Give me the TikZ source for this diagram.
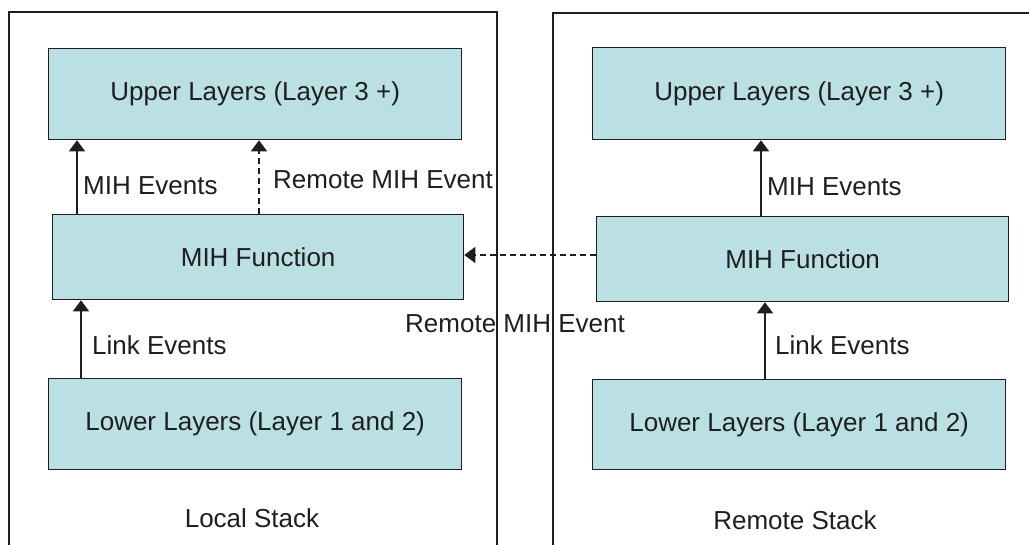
\documentclass[tikz,border=0pt]{standalone}
\usepackage{fontspec}
\setmainfont{Liberation Sans}
\usetikzlibrary{arrows.meta}
\definecolor{boxfill}{HTML}{BBE0E3}
\definecolor{ink}{HTML}{1E1E1E}
\tikzset{
  layerbox/.style={draw=ink, fill=boxfill, line width=1.3pt, inner sep=0pt, anchor=north west, text=ink},
  lbl/.style={anchor=west, inner sep=0pt, text=ink},
  ctr/.style={inner sep=0pt, text=ink},
  panel/.style={draw=ink, line width=1.3pt},
  arr/.style={draw=ink, line width=1.3pt, -{Triangle[width=16pt,length=11pt]}},
  darr/.style={arr, dash pattern=on 6pt off 4pt},
}
\begin{document}
\begin{tikzpicture}[x=1pt, y=-1pt, font=\fontsize{26}{31}\selectfont]
\useasboundingbox (0,0) rectangle (1029,545);
% panels
\draw[panel] (9,545) -- (9,12) -- (497,12) -- (497,545);
\draw[panel] (553,545) -- (553,13) -- (1029,13);
% left stack
\node[layerbox, minimum width=413pt, minimum height=91pt] (lup) at (48,48) {};
\node[ctr] at (lup.center) {Upper Layers (Layer 3 +)};
\node[layerbox, minimum width=411pt, minimum height=85pt] (lmih) at (52,214) {};
\node[ctr] at (lmih.center) {MIH Function};
\node[layerbox, minimum width=413pt, minimum height=91pt] (llow) at (48,378) {};
\node[ctr] at (llow.center) {Lower Layers (Layer 1 and 2)};
% right stack
\node[layerbox, minimum width=413pt, minimum height=92pt] (rup) at (592,47) {};
\node[ctr] at (rup.center) {Upper Layers (Layer 3 +)};
\node[layerbox, minimum width=412pt, minimum height=85pt] (rmih) at (596,216) {};
\node[ctr] at (rmih.center) {MIH Function};
\node[layerbox, minimum width=413pt, minimum height=90pt] (rlow) at (592,379) {};
\node[ctr] at (rlow.center) {Lower Layers (Layer 1 and 2)};
% connector x positions
\coordinate (xa) at (77,0);
\coordinate (xb) at (259,0);
\coordinate (xc) at (81,0);
\coordinate (xd) at (761,0);
\coordinate (xe) at (765,0);
% connectors
\draw[arr] (lmih.north -| xa) -- (lup.south -| xa);
\draw[darr] (lmih.north -| xb) -- (lup.south -| xb);
\draw[arr] (llow.north -| xc) -- (lmih.south -| xc);
\draw[arr] (rmih.north -| xd) -- (rup.south -| xd);
\draw[arr] (rlow.north -| xe) -- (rmih.south -| xe);
\coordinate (hy) at (0,255);
\draw[darr] (rmih.west |- hy) -- (lmih.east |- hy);
% labels
\node[lbl] (l1) at (83,186) {MIH Events};
\node[lbl] (l2) at (273,180) {Remote MIH Event};
\node[lbl] (l3) at (92,345) {Link Events};
\node[lbl] (l4) at (767,187) {MIH Events};
\node[lbl] (l5) at (775,345) {Link Events};
\node[lbl] (l6) at (405,324) {Remote MIH Event};
\node[ctr] (s1) at (252,518) {Local Stack};
\node[ctr] (s2) at (795,520) {Remote Stack};
\end{tikzpicture}
\end{document}
